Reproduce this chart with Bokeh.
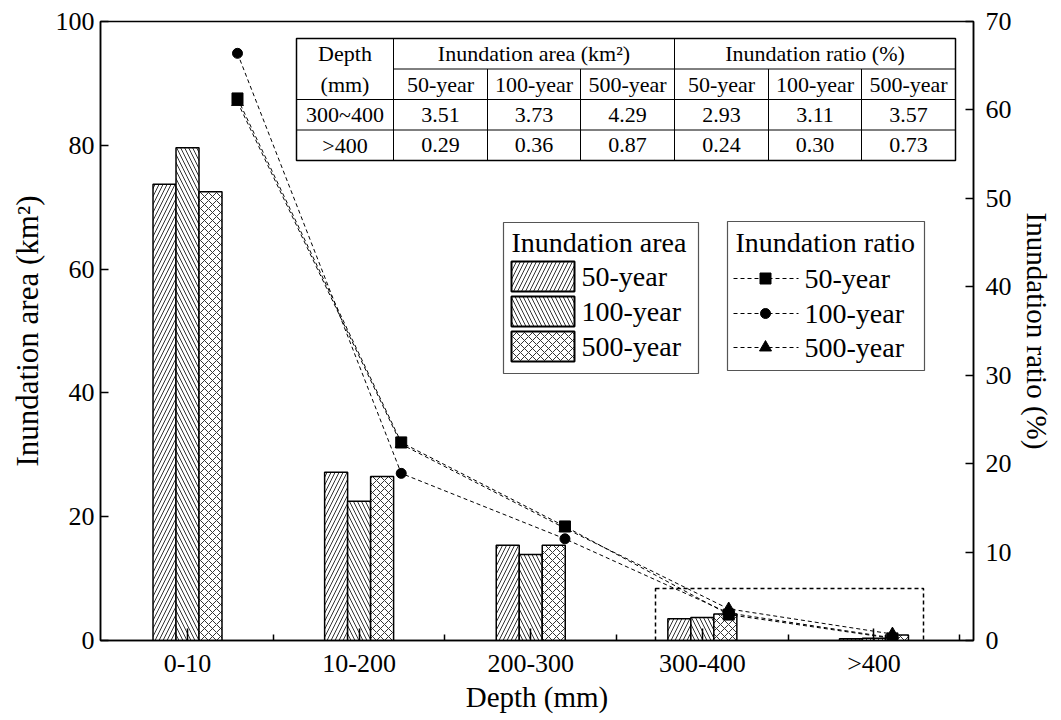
from bokeh.plotting import figure
from bokeh.models import Range1d, LinearAxis, FixedTicker, BoxAnnotation, ColumnDataSource
from bokeh.embed import file_html
from bokeh.resources import INLINE
from bokeh.core.properties import value

# ---------------- data ----------------
categories = ["0-10", "10-200", "200-300", "300-400", ">400"]
series_names = ["50-year", "100-year", "500-year"]
area_50 = [73.7, 27.2, 15.4, 3.51, 0.29]
area_100 = [79.6, 22.5, 13.9, 3.73, 0.36]
area_500 = [72.5, 26.5, 15.4, 4.29, 0.87]
ratio_50 = [61.3, 22.4, 12.9, 2.93, 0.24]
ratio_100 = [66.4, 18.9, 11.5, 3.11, 0.30]
ratio_500 = [60.9, 22.2, 12.7, 3.57, 0.73]
left_ticks = [0, 20, 40, 60, 80, 100]
right_ticks = [0, 10, 20, 30, 40, 50, 60, 70]
table_rows_idx = [3, 4]
table_row_labels = ["300~400", ">400"]

FONT = "Liberation Serif"
FW, FH = 873, 619

p = figure(frame_width=FW, frame_height=FH,
           x_range=Range1d(0.493, 5.58), y_range=Range1d(0, 100),
           output_backend="svg", toolbar_location=None,
           min_border_left=100, min_border_right=72, min_border_top=21, min_border_bottom=64)
p.extra_y_ranges = {"ratio": Range1d(0, 70), "py": Range1d(FH, 0)}
p.extra_x_ranges = {"lx": Range1d(0.1634, 5.495), "px": Range1d(0, FW)}
p.grid.visible = False
p.outline_line_color = "black"
p.outline_line_width = 1.5
p.background_fill_color = "white"
p.border_fill_color = "white"

def style_axis(ax):
    ax.axis_line_width = 1.5
    ax.axis_line_color = "black"
    ax.major_tick_line_width = 1.5
    ax.minor_tick_line_width = 1.5
    ax.major_tick_out = 0
    ax.minor_tick_out = 0
    ax.major_label_text_font = FONT
    ax.major_label_text_font_size = "26px"
    ax.major_label_text_color = "black"
    ax.axis_label_text_font = FONT
    ax.axis_label_text_font_size = "29px"
    ax.axis_label_text_font_style = "normal"
    ax.axis_label_text_color = "black"

xa = p.xaxis[0]
style_axis(xa)
xa.ticker = FixedTicker(ticks=[i + 1 for i in range(len(categories))],
                        minor_ticks=[i + 1.5 for i in range(len(categories))])
xa.major_label_overrides = {i + 1: c for i, c in enumerate(categories)}
xa.major_tick_in = 12
xa.minor_tick_in = 6
xa.major_label_standoff = 8
xa.axis_label = "Depth (mm)"
xa.axis_label_standoff = 0

ya = p.yaxis[0]
style_axis(ya)
ya.ticker = FixedTicker(ticks=left_ticks)
ya.major_tick_in = 8
ya.minor_tick_line_color = None
ya.major_label_standoff = 6
ya.axis_label = "Inundation area (km²)"
ya.axis_label_standoff = 8
ya.axis_label_text_font_size = "31px"

ra = LinearAxis(y_range_name="ratio", ticker=FixedTicker(ticks=right_ticks))
style_axis(ra)
ra.major_tick_in = 8
ra.minor_tick_line_color = None
ra.major_label_standoff = 12
ra.axis_label = "Inundation ratio (%)"
ra.axis_label_standoff = 6
ra.axis_label_text_font_size = "29px"
p.add_layout(ra, "right")

# ---------------- bars ----------------
BW = 0.134
hatches = ["/", "\\", "x"]
areas = [area_50, area_100, area_500]
offsets = [-BW, 0.0, BW]
for vals, off, h in zip(areas, offsets, hatches):
    src = ColumnDataSource(dict(x=[i + 1 + off for i in range(len(vals))], top=vals))
    p.vbar(x="x", top="top", bottom=0, width=BW, source=src,
           fill_color="white", line_color="black", line_width=1.5,
           hatch_pattern=h, hatch_color="#333333", hatch_scale=8, hatch_weight=1)

# ---------------- ratio lines ----------------
ratios = [ratio_50, ratio_100, ratio_500]
markers = ["square", "circle", "triangle"]
msizes = [11, 10, 12]
for vals, m, s in zip(ratios, markers, msizes):
    xs = [i + 1 for i in range(len(vals))]
    p.line(xs, vals, x_range_name="lx", y_range_name="ratio",
           line_color="black", line_width=1, line_dash="4 3")
    p.scatter(xs, vals, marker=m, size=s, x_range_name="lx", y_range_name="ratio",
              fill_color="black", line_color="black")

# ---------------- helper for frame-pixel drawing ----------------
def ptext(xs, ys, texts, size, align="center"):
    p.text(x=xs, y=ys, text=texts, x_range_name="px", y_range_name="py",
           text_font=value(FONT), text_font_size=size, text_align=align,
           text_baseline="middle", text_color="black")

# ---------------- table ----------------
col_edges = [196, 293, 387, 480, 574, 668, 761, 855]
row_edges = [17, 47.5, 78, 108.5, 139]
p.quad(left=[col_edges[0]], right=[col_edges[-1]], top=[row_edges[0]], bottom=[row_edges[-1]],
       x_range_name="px", y_range_name="py", fill_color="white",
       line_color="black", line_width=1.5)
sx0, sx1, sy0, sy1 = [], [], [], []
for c in [col_edges[1], col_edges[4]]:
    sx0.append(c); sx1.append(c); sy0.append(row_edges[0]); sy1.append(row_edges[-1])
for c in [col_edges[2], col_edges[3], col_edges[5], col_edges[6]]:
    sx0.append(c); sx1.append(c); sy0.append(row_edges[1]); sy1.append(row_edges[-1])
sx0.append(col_edges[1]); sx1.append(col_edges[-1]); sy0.append(row_edges[1]); sy1.append(row_edges[1])
for r in row_edges[2:4]:
    sx0.append(col_edges[0]); sx1.append(col_edges[-1]); sy0.append(r); sy1.append(r)
p.segment(x0=sx0, y0=sy0, x1=sx1, y1=sy1, x_range_name="px", y_range_name="py",
          line_color="black", line_width=1)

cc = [(col_edges[i] + col_edges[i + 1]) / 2 for i in range(len(col_edges) - 1)]
rc = [(row_edges[i] + row_edges[i + 1]) / 2 for i in range(len(row_edges) - 1)]
ptext([cc[0], (col_edges[1] + col_edges[4]) / 2, (col_edges[4] + col_edges[7]) / 2],
      [rc[0]] * 3, ["Depth", "Inundation area (km²)", "Inundation ratio (%)"], "22px")
ptext(cc, [rc[1]] * 7, ["(mm)"] + series_names + series_names, "22px")
for k, (ri, lab) in enumerate(zip(table_rows_idx, table_row_labels)):
    vals = [lab] + [f"{a[ri]:.2f}" for a in areas] + [f"{r[ri]:.2f}" for r in ratios]
    ptext(cc, [rc[2 + k]] * 7, vals, "22px")

# ---------------- legends (drawn) ----------------
# area legend
p.quad(left=[403], right=[598], top=[201], bottom=[352], x_range_name="px", y_range_name="py",
       fill_color="white", line_color="#555555", line_width=1.2)
ptext([411], [221], ["Inundation area"], "28px", align="left")
ly = [255, 290, 325]
for yc, h in zip(ly, hatches):
    p.quad(left=[411], right=[474], top=[yc - 15], bottom=[yc + 15], x_range_name="px", y_range_name="py",
           fill_color="white", line_color="black", line_width=2,
           hatch_pattern=h, hatch_color="#333333", hatch_scale=8, hatch_weight=1)
ptext([481] * 3, ly, series_names, "28px", align="left")

# ratio legend
p.quad(left=[627], right=[824], top=[200], bottom=[349], x_range_name="px", y_range_name="py",
       fill_color="white", line_color="#555555", line_width=1.2)
ptext([635], [221], ["Inundation ratio"], "28px", align="left")
ry = [257, 292, 326]
p.segment(x0=[633] * 3, y0=ry, x1=[698] * 3, y1=ry, x_range_name="px", y_range_name="py",
          line_color="black", line_width=1, line_dash="4 3")
for yc, m, s in zip(ry, markers, msizes):
    p.scatter([665], [yc], marker=m, size=s, x_range_name="px", y_range_name="py",
              fill_color="black", line_color="black")
ptext([704] * 3, ry, series_names, "28px", align="left")

# ---------------- dashed highlight box ----------------
box = BoxAnnotation(left=555, right=823, top=567, bottom=626, x_range_name="px", y_range_name="py",
                    fill_alpha=0, line_color="black", line_alpha=1.0, line_width=1.5, line_dash="4 3")
p.add_layout(box)

open("out.html", "w").write(file_html(p, INLINE))
